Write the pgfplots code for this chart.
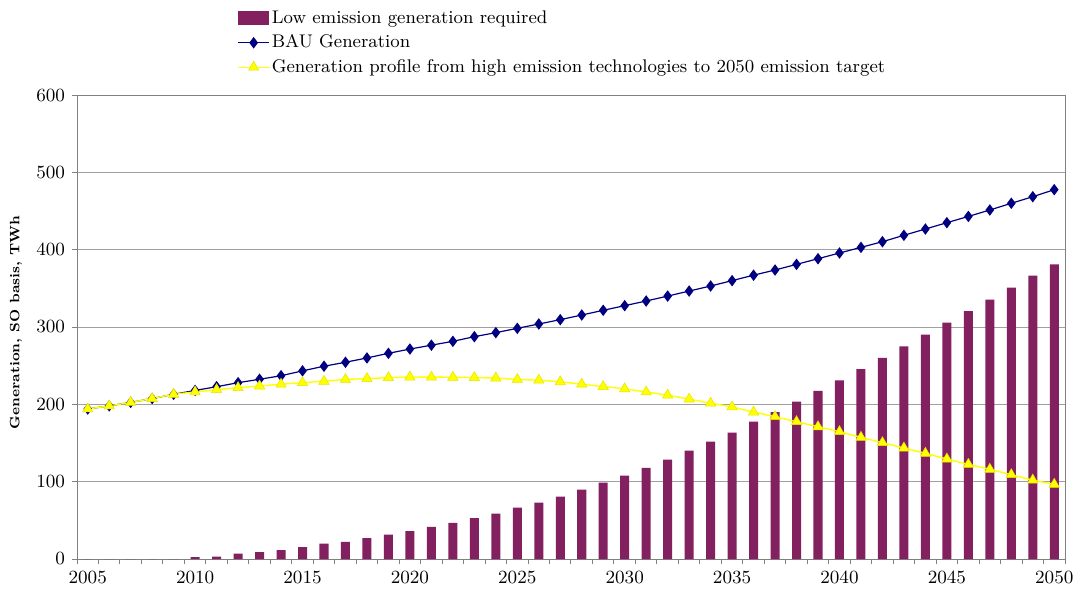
\documentclass[border=0pt]{standalone}
\usepackage{fontspec}
\usepackage{pgfplots}
\pgfplotsset{compat=1.18}

\definecolor{lowbar}{RGB}{131,32,96}
\definecolor{baublue}{RGB}{0,0,128}
\definecolor{hiyellow}{RGB}{255,255,0}
\definecolor{gridgray}{RGB}{160,160,160}
\definecolor{axisgray}{RGB}{128,128,128}

% year, low emission generation required, BAU generation, high emission profile (TWh)
\pgfplotstableread{
year low   bau   high
2005 0     194   194
2006 0     198   198
2007 0     202.5 202.5
2008 0     207.5 207.5
2009 0     213   213
2010 2.5   218   216
2011 3     222.8 219
2012 6.9   228   221.5
2013 9     232.4 223.7
2014 11.6  237   226
2015 15.5  243.3 228
2016 19.8  249.3 229.8
2017 22    254.4 232.2
2018 27    260   233.3
2019 31.5  266   234.5
2020 36.2  271.5 235.3
2021 41.4  276.5 235.2
2022 46.6  281.5 235
2023 53    287.5 234.6
2024 58.6  292.7 234
2025 66.4  298.3 232.2
2026 72.8  303.9 231.2
2027 80.6  309.5 229.1
2028 89.7  315.5 226
2029 98.7  321.6 223
2030 107.7 327.6 220
2031 118   333.6 216
2032 128.4 340   211.8
2033 140   346.5 206.8
2034 151.7 353   201.5
2035 163.3 360   196.6
2036 177.6 367   190
2037 190   373.7 184
2038 203.4 381   177.6
2039 217.3 388.3 171
2040 231   395.7 164.6
2041 245.7 403   157.3
2042 260   410.3 150.4
2043 275   418.6 143.5
2044 290   426.7 136.6
2045 305.6 434.9 129.3
2046 320.6 443   122.4
2047 335.3 451.3 116
2048 351   460   109
2049 366.5 468.5 102
2050 381   477.6 96.6
}\gen

\begin{document}
\begin{tikzpicture}
\begin{axis}[
  scale only axis,
  width=494pt, height=232pt,
  xmin=2004.5, xmax=2050.5,
  ymin=0, ymax=600,
  xtick={2005,2010,...,2050},
  minor xtick={2004.5,2005.5,...,2050.5},
  ytick={0,100,...,600},
  major x tick style={draw=none},
  tick align=outside,
  tick pos=left,
  major tick length=2.5pt,
  minor tick length=2.5pt,
  tick style={axisgray, line width=0.5pt},
  ymajorgrids,
  grid style={gridgray, line width=0.5pt},
  axis line style={axisgray, line width=0.5pt},
  /pgf/number format/assume math mode=true,
  /pgf/number format/1000 sep={},
  tick label style={font=\fontsize{9.3}{11}\selectfont},
  ylabel={Generation, SO basis, TWh},
  ylabel style={at={(axis description cs:-0.0617,0.51)}, anchor=center,
    font=\bfseries\fontsize{6.8}{8}\selectfont},
  legend style={at={(axis description cs:0.162,1.19)}, anchor=north west,
    draw=none, fill=none, inner sep=0pt, row sep=1.25pt,
    font=\fontsize{9.15}{11}\selectfont,
    nodes={inner sep=1pt, text height=7pt, text depth=2pt}},
  legend cell align=left,
  legend image code/.code={%
    \draw[mark repeat=2,mark phase=2] plot coordinates {(0pt,0pt) (7.75pt,0pt) (15.5pt,0pt)};},
]

\addplot[ybar, bar width=0.42, fill=lowbar, draw=none,
  legend image code/.code={\fill[lowbar] (0pt,-3.5pt) rectangle (15.5pt,3.5pt);}]
  table[x=year, y=low] {\gen};
\addlegendentry{Low emission generation required}

\addplot[baublue, line width=0.6pt, mark=diamond*, mark size=2.4pt,
  mark options={fill=baublue, solid}]
  table[x=year, y=bau] {\gen};
\addlegendentry{BAU Generation}

\addplot[hiyellow, line width=0.7pt, smooth, tension=0.3, mark=triangle*, mark size=3pt,
  mark options={fill=hiyellow, draw=hiyellow!90!black, line width=0.25pt, solid}]
  table[x=year, y=high] {\gen};
\addlegendentry{Generation profile from high emission technologies to 2050 emission target}

\end{axis}
\pgfresetboundingbox
\path (current axis.south west) ++(-38.5pt,-15.5pt) rectangle ++(537pt,295pt);
\end{tikzpicture}
\end{document}
